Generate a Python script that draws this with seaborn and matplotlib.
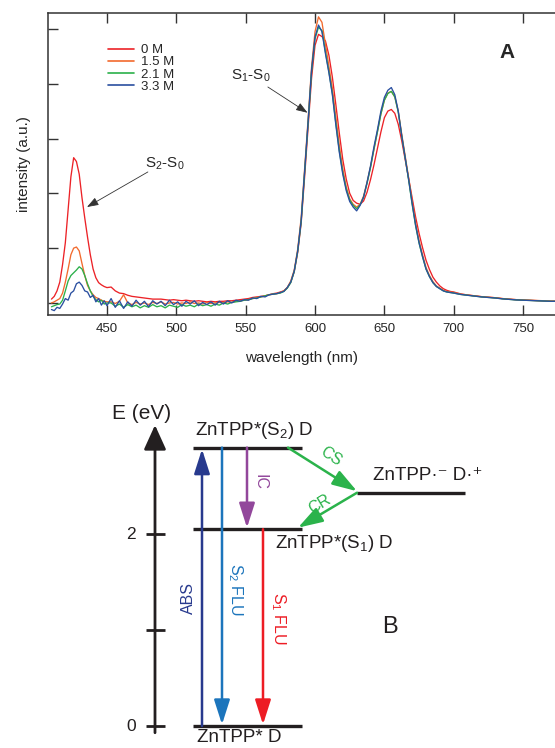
import numpy as np
import pandas as pd
import matplotlib
matplotlib.use('Agg')
import matplotlib.pyplot as plt
import seaborn as sns

# ---- panel A: emission spectra ----
wavelength = [410, 412, 414, 416, 418, 420, 422, 424, 426, 428, 430, 432, 434, 436, 438, 440, 442, 444, 446, 448, 450,
              453, 456, 459, 462, 465, 468, 471, 474, 477, 480, 483, 486, 489, 492, 495, 498, 501, 504, 507, 510,
              513, 516, 519, 522, 525, 528, 531, 534, 537, 540, 543, 546, 549, 552, 555, 558, 561, 564, 567,
              570, 572.5, 575, 577.5, 580, 582.5, 585, 587.5, 590, 592.5, 595, 597.5, 600, 602.5, 605, 607.5,
              610, 612.5, 615, 617.5, 620, 622.5, 625, 627.5, 630, 632.5, 635, 637.5, 640, 642.5, 645, 647.5,
              650, 652.5, 655, 657.5, 660, 662.5, 665, 667.5, 670, 672.5, 675, 677.5, 680, 682.5, 685, 687.5,
              690, 692.5, 695, 697.5, 700,
              705, 710, 715, 720, 725, 730, 735, 740, 745, 750, 755, 760, 765, 770, 775]

int_0M = [0.07, 0.12, 0.22, 0.38, 0.70, 1.10, 1.70, 2.30, 2.65, 2.58, 2.35, 1.92, 1.55, 1.20, 0.88, 0.62, 0.46, 0.37, 0.33, 0.30, 0.28,
          0.29, 0.22, 0.18, 0.17, 0.14, 0.12, 0.11, 0.10, 0.09, 0.08, 0.07, 0.07, 0.07, 0.06, 0.05, 0.06, 0.05, 0.04, 0.05, 0.04,
          0.03, 0.04, 0.03, 0.02, 0.03, 0.02, 0.03, 0.03, 0.04, 0.04, 0.05, 0.06, 0.07, 0.08, 0.10, 0.11, 0.12, 0.13, 0.15,
          0.17, 0.18, 0.20, 0.22, 0.28, 0.38, 0.57, 0.92, 1.45, 2.30, 3.20, 4.10, 4.70, 4.90, 4.86, 4.78,
          4.52, 4.12, 3.62, 3.10, 2.62, 2.26, 2.00, 1.87, 1.82, 1.80, 1.86, 2.02, 2.25, 2.52, 2.82, 3.12,
          3.38, 3.50, 3.53, 3.46, 3.26, 2.96, 2.62, 2.27, 1.92, 1.57, 1.27, 1.01, 0.78, 0.61, 0.47, 0.38,
          0.31, 0.26, 0.23, 0.21, 0.20,
          0.165, 0.145, 0.13, 0.115, 0.105, 0.095, 0.08, 0.07, 0.06, 0.055, 0.048, 0.042, 0.037, 0.033, 0.03]

int_15M = [0.00, 0.02, 0.05, 0.08, 0.18, 0.38, 0.62, 0.88, 1.00, 1.02, 0.95, 0.72, 0.50, 0.32, 0.22, 0.15, 0.10, 0.08, 0.05, 0.03, 0.02,
           0.02, -0.01, 0.03, 0.15, 0.00, -0.03, 0.01, -0.02, 0.00, -0.03, 0.01, -0.01, 0.02, -0.02, 0.00, 0.01, -0.02, 0.00, -0.01, 0.02,
           -0.01, 0.00, -0.02, 0.01, -0.01, 0.00, 0.01, 0.00, 0.02, 0.01, 0.03, 0.04, 0.05, 0.06, 0.08, 0.10, 0.11, 0.13, 0.15,
           0.16, 0.17, 0.19, 0.22, 0.28, 0.40, 0.60, 0.98, 1.55, 2.45, 3.35, 4.30, 4.95, 5.22, 5.12, 4.72,
           4.32, 3.92, 3.40, 2.88, 2.45, 2.12, 1.90, 1.80, 1.75, 1.80, 1.95, 2.20, 2.48, 2.80, 3.12, 3.45,
           3.70, 3.83, 3.86, 3.76, 3.50, 3.08, 2.68, 2.28, 1.86, 1.46, 1.14, 0.88, 0.65, 0.50, 0.39, 0.31,
           0.27, 0.23, 0.21, 0.20, 0.19,
           0.16, 0.145, 0.13, 0.115, 0.105, 0.095, 0.08, 0.07, 0.06, 0.055, 0.05, 0.045, 0.04, 0.035, 0.03]

int_21M = [-0.07, -0.05, -0.03, -0.02, 0.05, 0.22, 0.40, 0.50, 0.55, 0.60, 0.66, 0.62, 0.50, 0.35, 0.22, 0.12, 0.06, 0.02, 0.05, -0.02, 0.00,
           0.00, -0.06, -0.02, -0.08, -0.03, -0.07, -0.04, -0.09, -0.05, -0.08, -0.03, -0.07, -0.05, -0.09, -0.04, -0.06, -0.08, -0.03, -0.06, -0.04,
           -0.07, -0.02, -0.05, -0.03, -0.06, -0.02, -0.04, 0.00, -0.02, 0.01, 0.02, 0.03, 0.05, 0.06, 0.08, 0.09, 0.11, 0.13, 0.15,
           0.16, 0.17, 0.18, 0.21, 0.27, 0.37, 0.57, 0.94, 1.48, 2.38, 3.28, 4.22, 4.82, 5.03, 4.97, 4.58,
           4.22, 3.82, 3.28, 2.78, 2.38, 2.08, 1.88, 1.78, 1.72, 1.79, 1.93, 2.18, 2.47, 2.81, 3.12, 3.45,
           3.70, 3.82, 3.86, 3.76, 3.48, 3.05, 2.64, 2.24, 1.80, 1.41, 1.09, 0.84, 0.62, 0.48, 0.37, 0.30,
           0.26, 0.22, 0.20, 0.19, 0.18,
           0.155, 0.14, 0.125, 0.11, 0.10, 0.09, 0.075, 0.065, 0.055, 0.05, 0.045, 0.04, 0.035, 0.03, 0.03]

int_33M = [-0.12, -0.14, -0.08, -0.10, -0.02, 0.08, 0.05, 0.18, 0.22, 0.35, 0.38, 0.32, 0.22, 0.20, 0.10, 0.14, 0.02, 0.08, -0.04, 0.04, -0.05,
           0.08, -0.08, 0.04, -0.10, 0.02, -0.06, 0.05, -0.04, 0.03, -0.07, 0.04, -0.02, 0.03, -0.05, 0.05, -0.03, 0.02, -0.06, 0.03, -0.02,
           0.04, -0.05, 0.01, -0.03, 0.02, -0.04, 0.03, -0.02, 0.04, 0.00, 0.05, 0.03, 0.06, 0.05, 0.09, 0.08, 0.12, 0.11, 0.15,
           0.16, 0.17, 0.19, 0.21, 0.28, 0.38, 0.58, 0.95, 1.50, 2.40, 3.30, 4.25, 4.85, 5.07, 4.95, 4.55,
           4.20, 3.80, 3.25, 2.75, 2.35, 2.05, 1.85, 1.75, 1.68, 1.78, 1.93, 2.20, 2.50, 2.85, 3.16, 3.50,
           3.75, 3.88, 3.93, 3.80, 3.50, 3.05, 2.65, 2.25, 1.82, 1.42, 1.10, 0.85, 0.62, 0.48, 0.37, 0.30,
           0.26, 0.22, 0.20, 0.19, 0.18,
           0.155, 0.14, 0.125, 0.11, 0.10, 0.09, 0.075, 0.065, 0.055, 0.05, 0.045, 0.04, 0.035, 0.03, 0.03]

conc_labels = ['0 M', '1.5 M', '2.1 M', '3.3 M']
line_colors = ['#ec2227', '#f26a2e', '#2bb04a', '#2a4fa0']
xticks_A = [450, 500, 550, 600, 650, 700, 750]

# ---- panel B: energy level diagram ----
level_names = ['ZnTPP* D', r'ZnTPP*(S$_\mathregular{1}$) D', r'ZnTPP*(S$_\mathregular{2}$) D',
               'ZnTPP\u00b7\u207b D\u00b7\u207a']
level_energy = [0.0, 2.05, 2.9, 2.43]
energy_ticks = [0, 1, 2]
energy_ticklabels = ['0', '', '2']
trans_names = ['ABS', r'S$_\mathregular{2}$ FLU', 'IC', r'S$_\mathregular{1}$ FLU', 'CS', 'CR']
trans_from = [0.0, 2.9, 2.9, 2.05, 2.9, 2.43]
trans_to = [2.9, 0.0, 2.05, 0.0, 2.43, 2.05]
trans_colors = ['#283a8e', '#1c75bc', '#92479b', '#ed1c24', '#2bb34b', '#2bb34b']

for s in (int_0M, int_15M, int_21M, int_33M):
    assert len(s) == len(wavelength)

df = pd.DataFrame({
    'wavelength': wavelength * 4,
    'intensity': int_0M + int_15M + int_21M + int_33M,
    'conc': sum([[c] * len(wavelength) for c in conc_labels], []),
})

sns.set_theme(style='ticks')
plt.rcParams['font.family'] = ['Liberation Sans', 'DejaVu Sans']
plt.rcParams['mathtext.fontset'] = 'custom'
plt.rcParams['mathtext.rm'] = 'Liberation Sans'
ink = '#231f20'

fig = plt.figure(figsize=(5.55, 7.48), dpi=100)

# panel A
ax = fig.add_axes([48 / 555, 1 - 315 / 748, 507 / 555, 302 / 748])
sns.lineplot(data=df, x='wavelength', y='intensity', hue='conc', hue_order=conc_labels,
             palette=line_colors, lw=0.95, errorbar=None, ax=ax)
leg = ax.get_legend()
handles = leg.legend_handles
for h in handles:
    h.set_linewidth(1.2)
labels = [t.get_text() for t in leg.get_texts()]
ax.legend(handles, labels, loc='upper left', bbox_to_anchor=(0.108, 0.915), frameon=False,
          fontsize=9.5, handlelength=2.0, handletextpad=0.5, labelspacing=0.0, borderaxespad=0)

ax.set_xlim(407.5, 773)
ax.set_ylim(-0.22, 5.29)
ax.set_xticks(xticks_A)
ax.set_yticks([0, 1, 2, 3, 4, 5])
ax.set_yticklabels([])
ax.tick_params(direction='in', length=7, width=1, color='#333333', top=True, right=False,
               labelsize=9.5, pad=6)
for side in ['left', 'bottom', 'top']:
    ax.spines[side].set_color('#333333')
    ax.spines[side].set_linewidth(1.1)
ax.spines['right'].set_visible(False)
ax.set_xlabel('wavelength (nm)', fontsize=11, labelpad=11)
ax.set_ylabel('intensity (a.u.)', fontsize=11, labelpad=6)

ax.text(554, 4.14, r'S$_\mathregular{1}$-S$_\mathregular{0}$', fontsize=11, ha='center', va='center')
ax.annotate('', xy=(594.6, 3.47), xytext=(566, 3.94),
            arrowprops=dict(arrowstyle='-|>,head_length=0.7,head_width=0.25', mutation_scale=10,
                            lw=0.6, color='#333333', shrinkA=0, shrinkB=0))
ax.text(492, 2.55, r'S$_\mathregular{2}$-S$_\mathregular{0}$', fontsize=11, ha='center', va='center')
ax.annotate('', xy=(435.6, 1.75), xytext=(479.5, 2.39),
            arrowprops=dict(arrowstyle='-|>,head_length=0.7,head_width=0.25', mutation_scale=10,
                            lw=0.6, color='#333333', shrinkA=0, shrinkB=0))
ax.text(0.905, 0.87, 'A', transform=ax.transAxes, fontsize=15, fontweight='bold', ha='center', va='center')

# panel B
axb = fig.add_axes([0, 0, 1, 343 / 748])
axb.set_xlim(0, 555)
axb.set_ylim(-0.229, 3.344)
axb.axis('off')

axb.annotate('', xy=(155, 3.135), xytext=(155, -0.07),
             arrowprops=dict(arrowstyle='-|>,head_length=0.75,head_width=0.34', mutation_scale=20,
                             lw=2.0, color=ink, shrinkA=0, shrinkB=0))
for e, lab in zip(energy_ticks, energy_ticklabels):
    axb.plot([146, 165], [e, e], color=ink, lw=2.0, solid_capstyle='butt')
    axb.text(131, e, lab, fontsize=12.5, ha='center', va='center', color=ink)
axb.text(142, 3.26, 'E (eV)', fontsize=15, ha='center', va='center', color=ink)

level_x = [(193, 302), (193, 302), (193, 302), (357, 465)]
label_xy = [(197, -0.12), (275, 1.906), (195, 3.083), (373, 2.61)]
for name, e, (x0, x1), (tx, ty) in zip(level_names, level_energy, level_x, label_xy):
    axb.plot([x0, x1], [e, e], color=ink, lw=2.4, solid_capstyle='butt')
    axb.text(tx, ty, name, fontsize=13.5, ha='left', va='center', color=ink)

trans_x0 = [202, 222, 247, 263, 288, 357]
trans_x1 = [202, 222, 247, 263, 357, 298]
trans_label_xy = [(188, 1.333), (235, 1.417), (260, 2.542), (278, 1.125), (331, 2.81), (320, 2.31)]
trans_rot = [90, -90, -90, -90, -34, 31]
pad = 0.016
for name, e0, e1, c, x0, x1, (tx, ty), rot in zip(trans_names, trans_from, trans_to, trans_colors,
                                                   trans_x0, trans_x1, trans_label_xy, trans_rot):
    tip = e1 - pad if e1 > e0 else e1 + pad
    axb.annotate('', xy=(x1, tip), xytext=(x0, e0),
                 arrowprops=dict(arrowstyle='-|>,head_length=0.75,head_width=0.24', mutation_scale=20,
                                 lw=1.8, color=c, shrinkA=0, shrinkB=0))
    axb.text(tx, ty, name, fontsize=11.5, color=c, rotation=rot, ha='center', va='center',
             rotation_mode='anchor')

axb.text(390, 1.031, 'B', fontsize=17, ha='center', va='center', color=ink)

fig.savefig('out.png', dpi=100)
